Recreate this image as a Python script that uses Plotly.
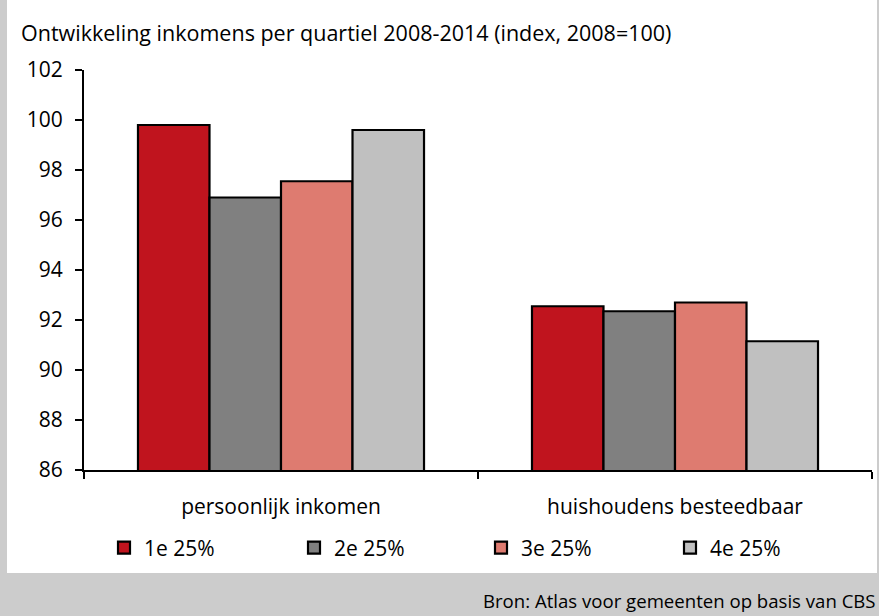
import plotly.graph_objects as go

categories = ["persoonlijk inkomen", "huishoudens besteedbaar"]
series_names = ["1e 25%", "2e 25%", "3e 25%", "4e 25%"]
q1 = [99.8, 92.55]
q2 = [96.9, 92.35]
q3 = [97.55, 92.7]
q4 = [99.6, 91.15]
colors = ["#C0141E", "#808080", "#DE7B70", "#C0C0C0"]
y_ticks = [86, 88, 90, 92, 94, 96, 98, 100, 102]

W, H = 879, 616
ML, MR, MT, MB = 84, 7, 70, 146
PW, PH = W - ML - MR, H - MT - MB

def px_x(p):
    return (p - ML) / PW

def px_y(p):
    return (H - MB - p) / PH

FONT = "Open Sans, Noto Sans, sans-serif"
legend_ids = ["legend", "legend2", "legend3", "legend4"]
legend_px = [104, 294, 481, 670]

fig = go.Figure()
for name, vals, col, lid in zip(series_names, [q1, q2, q3, q4], colors, legend_ids):
    fig.add_trace(go.Bar(
        x=categories, y=vals, name=name, legend=lid,
        marker=dict(color=col, line=dict(color="black", width=2.2)),
    ))

legend_common = dict(
    orientation="h", xanchor="left", yanchor="middle",
    font=dict(size=21), bgcolor="rgba(0,0,0,0)", itemclick=False,
)
legends = {}
for lid, lx in zip(legend_ids, legend_px):
    legends[lid] = dict(legend_common, x=px_x(lx), y=px_y(548))

fig.update_layout(
    width=W, height=H,
    margin=dict(l=ML, r=MR, t=MT, b=MB),
    paper_bgcolor="#CCCCCC",
    plot_bgcolor="white",
    barmode="group",
    bargap=0.274,
    bargroupgap=0,
    font=dict(family=FONT, size=21, color="black"),
    showlegend=True,
    xaxis=dict(
        showline=True, linecolor="black", linewidth=2,
        ticks="outside", ticklen=7, tickwidth=2, tickcolor="black",
        tickson="boundaries",
        showgrid=False, zeroline=False,
        tickfont=dict(size=21),
        ticklabelstandoff=17,
    ),
    yaxis=dict(
        range=[86, 102],
        tickvals=y_ticks,
        showline=True, linecolor="black", linewidth=2,
        ticks="outside", ticklen=7, tickwidth=2, tickcolor="black",
        showgrid=False, zeroline=False,
        tickfont=dict(size=21),
        ticklabelstandoff=8,
    ),
    shapes=[dict(
        type="rect", xref="paper", yref="paper", layer="below",
        x0=px_x(7), x1=px_x(877), y0=px_y(573), y1=px_y(-5),
        fillcolor="white", line=dict(width=0),
    )],
    annotations=[
        dict(text="Ontwikkeling inkomens per quartiel 2008-2014 (index, 2008=100)",
             xref="paper", yref="paper", x=px_x(19), y=px_y(32),
             xanchor="left", yanchor="middle", showarrow=False,
             font=dict(size=21.5)),
        dict(text="Bron: Atlas voor gemeenten op basis van CBS",
             xref="paper", yref="paper", x=px_x(878), y=px_y(600),
             xanchor="right", yanchor="middle", showarrow=False,
             font=dict(size=18.6)),
    ],
)
fig.update_layout(**legends)

fig.write_html("out.html", config={"displayModeBar": False},
               post_script="document.body.style.margin='0';document.body.style.overflow='hidden';")
